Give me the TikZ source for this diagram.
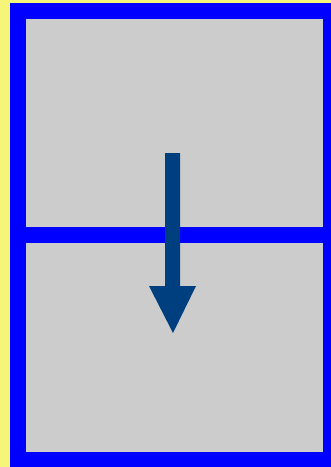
\documentclass[tikz,border=0pt]{standalone}
\definecolor{bgyellow}{HTML}{F5F57A}
\definecolor{framblue}{HTML}{0000FF}
\definecolor{panegrey}{HTML}{CCCCCC}
\definecolor{arrowblue}{HTML}{003F7F}
\begin{document}
\begin{tikzpicture}[x=1pt,y=-1pt]
\useasboundingbox (0,0) rectangle (331,467);
\fill[bgyellow] (0,0) rectangle (331,467);
\fill[framblue] (10,3) rectangle (331,467);
\fill[panegrey] (26,19) rectangle (323,227);
\fill[panegrey] (26,243) rectangle (323,452);
\fill[arrowblue] (165,153) -- (180,153) -- (180,286) -- (196,286) -- (173,333) -- (149,286) -- (165,286) -- cycle;
\end{tikzpicture}
\end{document}
